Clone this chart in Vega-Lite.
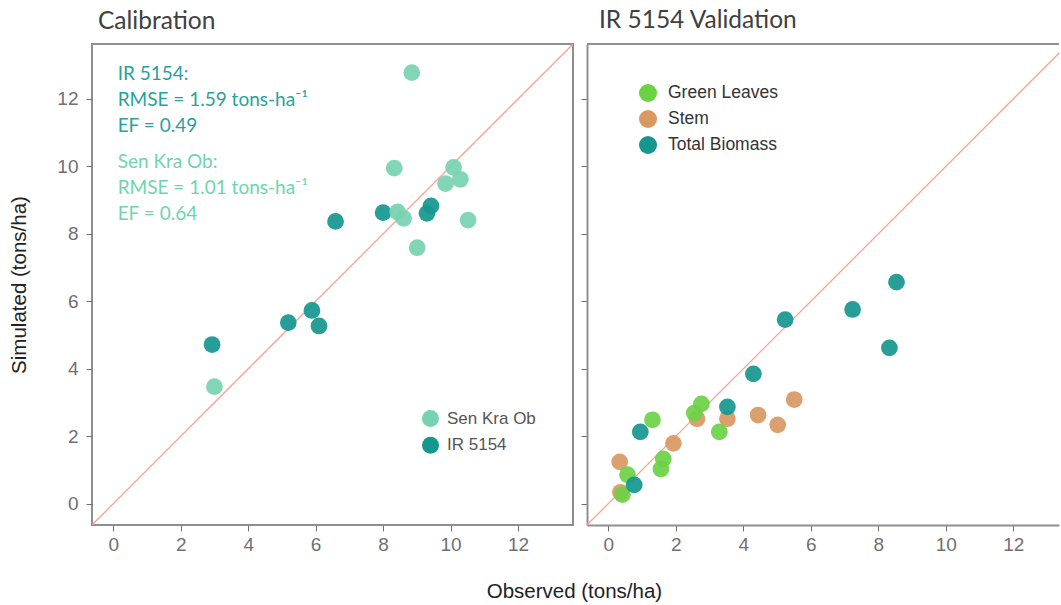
{
  "$schema": "https://vega.github.io/schema/vega-lite/v6.json",
  "padding": {"left": 8, "top": 7, "right": 0, "bottom": 0},
  "background": "white",
  "datasets": {
    "oneToOne": [{"v": -0.63}, {"v": 13.63}],
    "calibration": [
      {"variety": "IR 5154", "observed": 6.59, "simulated": 8.37},
      {"variety": "IR 5154", "observed": 8.0, "simulated": 8.63},
      {"variety": "IR 5154", "observed": 9.3, "simulated": 8.61},
      {"variety": "IR 5154", "observed": 9.42, "simulated": 8.83},
      {"variety": "IR 5154", "observed": 2.93, "simulated": 4.72},
      {"variety": "IR 5154", "observed": 5.19, "simulated": 5.37},
      {"variety": "IR 5154", "observed": 5.89, "simulated": 5.73},
      {"variety": "IR 5154", "observed": 6.1, "simulated": 5.27},
      {"variety": "Sen Kra Ob", "observed": 8.85, "simulated": 12.78},
      {"variety": "Sen Kra Ob", "observed": 8.33, "simulated": 9.95},
      {"variety": "Sen Kra Ob", "observed": 10.09, "simulated": 9.97},
      {"variety": "Sen Kra Ob", "observed": 10.29, "simulated": 9.62},
      {"variety": "Sen Kra Ob", "observed": 9.85, "simulated": 9.49},
      {"variety": "Sen Kra Ob", "observed": 8.43, "simulated": 8.65},
      {"variety": "Sen Kra Ob", "observed": 8.61, "simulated": 8.46},
      {"variety": "Sen Kra Ob", "observed": 10.52, "simulated": 8.41},
      {"variety": "Sen Kra Ob", "observed": 9.01, "simulated": 7.59},
      {"variety": "Sen Kra Ob", "observed": 3.0, "simulated": 3.47}
    ],
    "validation": [
      {"component": "Stem", "observed": 0.34, "simulated": 1.24},
      {"component": "Stem", "observed": 0.36, "simulated": 0.34},
      {"component": "Stem", "observed": 1.93, "simulated": 1.79},
      {"component": "Stem", "observed": 2.63, "simulated": 2.52},
      {"component": "Stem", "observed": 3.53, "simulated": 2.52},
      {"component": "Stem", "observed": 4.44, "simulated": 2.63},
      {"component": "Stem", "observed": 5.02, "simulated": 2.34},
      {"component": "Stem", "observed": 5.51, "simulated": 3.09},
      {"component": "Green Leaves", "observed": 1.31, "simulated": 2.49},
      {"component": "Green Leaves", "observed": 2.76, "simulated": 2.96},
      {"component": "Green Leaves", "observed": 2.55, "simulated": 2.69},
      {"component": "Green Leaves", "observed": 3.29, "simulated": 2.13},
      {"component": "Green Leaves", "observed": 1.63, "simulated": 1.33},
      {"component": "Green Leaves", "observed": 1.56, "simulated": 1.03},
      {"component": "Green Leaves", "observed": 0.57, "simulated": 0.86},
      {"component": "Green Leaves", "observed": 0.42, "simulated": 0.27},
      {"component": "Total Biomass", "observed": 0.95, "simulated": 2.13},
      {"component": "Total Biomass", "observed": 3.53, "simulated": 2.87},
      {"component": "Total Biomass", "observed": 0.77, "simulated": 0.56},
      {"component": "Total Biomass", "observed": 4.3, "simulated": 3.85},
      {"component": "Total Biomass", "observed": 5.24, "simulated": 5.46},
      {"component": "Total Biomass", "observed": 7.24, "simulated": 5.76},
      {"component": "Total Biomass", "observed": 8.33, "simulated": 4.62},
      {"component": "Total Biomass", "observed": 8.54, "simulated": 6.57}
    ]
  },
  "config": {
    "font": "Liberation Sans",
    "view": {"stroke": "#8f8f8f", "strokeWidth": 2},
    "axis": {
      "grid": false, "domain": false, "ticks": true, "tickColor": "#6f6f6f", "tickSize": 6, "tickWidth": 1,
      "labelColor": "#707070", "labelFont": "Liberation Sans", "labelFontSize": 19,
      "titleColor": "#222222", "titleFont": "Liberation Sans", "titleFontSize": 20.5, "titleFontWeight": "normal"
    },
    "legend": {"orient": "none", "padding": 0, "labelFont": "Liberation Sans", "symbolType": "circle", "symbolOpacity": 1, "symbolStrokeWidth": 0},
    "title": {"font": "Lato", "fontSize": 24.5, "fontWeight": "normal", "color": "#404040", "anchor": "start", "frame": "group", "offset": 10}
  },
  "title": {"text": "Observed (tons/ha)", "orient": "bottom", "anchor": "middle", "frame": "bounds", "font": "Liberation Sans", "fontSize": 20.5, "color": "#222222", "fontWeight": "normal", "offset": 27, "dx": 40},
  "spacing": 6,
  "resolve": {"scale": {"color": "independent"}, "legend": {"color": "independent"}},
  "hconcat": [
    {
      "width": 481,
      "height": 481,
      "title": {"text": "Calibration", "dx": 6},
      "layer": [
        {
          "data": {"name": "oneToOne"},
          "mark": {"type": "line", "color": "#f6a396", "strokeWidth": 1.3, "clip": true},
          "encoding": {
            "x": {"field": "v", "type": "quantitative", "title": null, "scale": {"domain": [-0.63, 13.63], "nice": false, "zero": false}, "axis": {"values": [0, 2, 4, 6, 8, 10, 12], "labelPadding": 4}},
            "y": {"field": "v", "type": "quantitative", "title": "Simulated (tons/ha)", "scale": {"domain": [-0.63, 13.63], "nice": false, "zero": false}, "axis": {"values": [0, 2, 4, 6, 8, 10, 12], "labelPadding": 8, "titlePadding": 27}}
          }
        },
        {
          "data": {"name": "calibration"},
          "mark": {"type": "circle", "size": 280, "opacity": 0.92},
          "encoding": {
            "x": {"field": "observed", "type": "quantitative", "title": null},
            "y": {"field": "simulated", "type": "quantitative", "title": "Simulated (tons/ha)"},
            "color": {
              "field": "variety", "type": "nominal",
              "scale": {"domain": ["Sen Kra Ob", "IR 5154"], "range": ["#76d3b1", "#15978f"]},
              "legend": {"title": null, "legendX": 330, "legendY": 366, "symbolSize": 289, "labelFontSize": 17, "labelColor": "#555555", "labelOffset": 8, "rowPadding": 8.7}
            }
          }
        },
        {
          "data": {"values": [{}]},
          "mark": {"type": "text", "align": "left", "baseline": "alphabetic", "font": "Lato", "fontSize": 19, "color": "#27a29c", "lineHeight": 26, "text": ["IR 5154:", "RMSE = 1.59 tons-ha⁻¹", "EF = 0.49"]},
          "encoding": {"x": {"datum": 0.13, "type": "quantitative"}, "y": {"datum": 12.55, "type": "quantitative"}}
        },
        {
          "data": {"values": [{}]},
          "mark": {"type": "text", "align": "left", "baseline": "alphabetic", "font": "Lato", "fontSize": 19, "color": "#6ed4ae", "lineHeight": 26, "text": ["Sen Kra Ob:", "RMSE = 1.01 tons-ha⁻¹", "EF = 0.64"]},
          "encoding": {"x": {"datum": 0.13, "type": "quantitative"}, "y": {"datum": 9.95, "type": "quantitative"}}
        }
      ]
    },
    {
      "width": 472,
      "height": 481,
      "view": {"stroke": null},
      "title": {"text": "IR 5154 Validation", "dx": 12},
      "layer": [
        {
          "data": {"name": "oneToOne"},
          "mark": {"type": "line", "color": "#f6a396", "strokeWidth": 1.3, "clip": true},
          "encoding": {
            "x": {"field": "v", "type": "quantitative", "title": null, "scale": {"domain": [-0.63, 13.355], "nice": false, "zero": false}, "axis": {"values": [0, 2, 4, 6, 8, 10, 12], "labelPadding": 4, "domain": true, "domainColor": "#8f8f8f", "domainWidth": 2}},
            "y": {"field": "v", "type": "quantitative", "title": null, "scale": {"domain": [-0.63, 13.63], "nice": false, "zero": false}, "axis": {"values": [0, 2, 4, 6, 8, 10, 12], "labels": false, "domain": true, "domainColor": "#8f8f8f", "domainWidth": 2}}
          }
        },
        {
          "data": {"values": [{}]},
          "mark": {"type": "rule", "color": "#8f8f8f", "strokeWidth": 2},
          "encoding": {"y": {"datum": 13.63, "type": "quantitative"}}
        },
        {
          "data": {"name": "validation"},
          "mark": {"type": "circle", "size": 280, "opacity": 0.92},
          "encoding": {
            "x": {"field": "observed", "type": "quantitative", "title": null},
            "y": {"field": "simulated", "type": "quantitative", "title": null},
            "color": {
              "field": "component", "type": "nominal",
              "scale": {"domain": ["Green Leaves", "Stem", "Total Biomass"], "range": ["#6bd145", "#d99862", "#15978f"]},
              "legend": {"title": null, "legendX": 52, "legendY": 40, "symbolSize": 324, "labelFontSize": 17.5, "labelColor": "#333333", "labelOffset": 11, "rowPadding": 8}
            }
          }
        }
      ]
    }
  ]
}
